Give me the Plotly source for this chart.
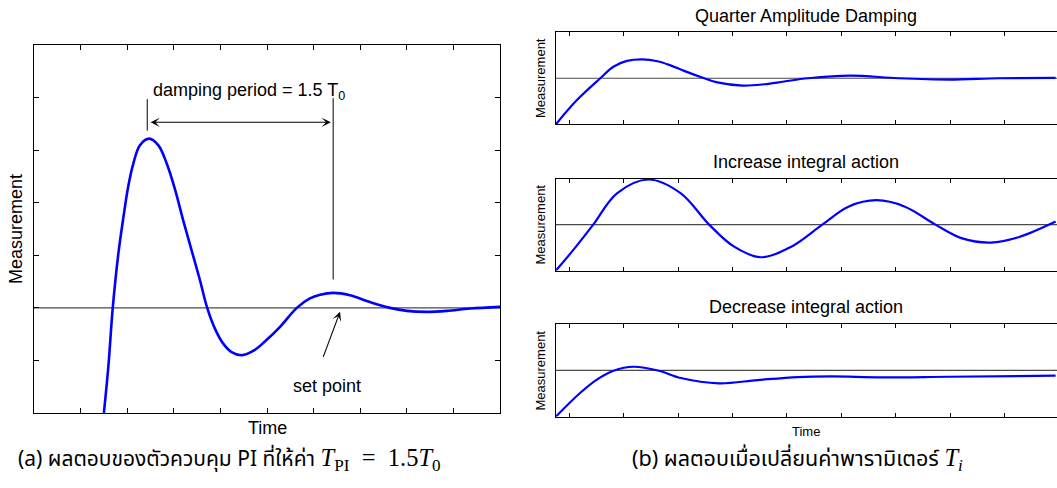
import plotly.graph_objects as go

W, H = 1057, 488

# ---------------- Panel (a): PI response, damping period ----------------
TIME_A = [1.50, 1.595, 1.69, 1.81, 1.92, 2.02, 2.13, 2.27, 2.47, 2.67, 2.85, 3.03,
          3.20, 3.38, 3.56, 3.71, 3.88, 4.06, 4.24, 4.46, 4.74, 4.96, 5.28, 5.64,
          5.92, 6.14, 6.42, 6.78, 7.21, 7.64, 8.00, 8.43, 8.86, 9.36, 10.0]
MEAS_A = [-2.00, -1.12, 0.00, 1.03, 1.73, 2.30, 2.74, 3.09, 3.22, 3.09, 2.74, 2.24,
          1.67, 1.10, 0.53, 0.02, -0.39, -0.68, -0.84, -0.90, -0.80, -0.635, -0.36, 0.00,
          0.18, 0.25, 0.285, 0.24, 0.11, 0.00, -0.057, -0.076, -0.057, -0.013, 0.019]
SETPOINT = 0.0
XRANGE_A = [0, 10]
YRANGE_A = [-2, 5]
PEAK1_T, PEAK1_LINE = 2.43, [3.37, 3.97]
PEAK2_T, PEAK2_LINE = 6.42, [0.54, 3.99]
PERIOD_ARROW_Y, PERIOD_ARROW_T = 3.53, [2.47, 6.37]
SP_TAIL, SP_TIP = (6.195, -0.962), (6.567, -0.076)
PERIOD_TEXT_POS = (2.50, 4.12)
SP_TEXT_POS = (6.288, -1.49)

# ---------------- Panel (b): three responses ----------------
XRANGE_B = [-0.2445, 8.965]
YRANGE_B = [-1, 1]
TIME_Q = [-0.246, 0.136, 0.57, 0.81, 1.06, 1.34, 1.62, 1.86, 2.11, 2.48, 2.72, 3.19,
          3.59, 3.95, 4.39, 5.16, 6.05, 6.98, 7.90, 8.94]
MEAS_Q = [-1.0, -0.48, 0.0, 0.25, 0.377, 0.41, 0.37, 0.28, 0.16, 0.0, -0.09, -0.16,
          -0.13, -0.07, 0.0, 0.058, 0.0, -0.03, 0.0, 0.007]
TIME_I = [-0.246, 0.074, 0.44, 0.876, 1.46, 2.05, 2.57, 3.03, 3.52, 4.08, 4.65, 5.13,
          5.65, 6.17, 6.73, 7.22, 7.75, 8.27, 8.94]
MEAS_I = [-1.0, -0.55, 0.0, 0.68, 0.98, 0.68, 0.0, -0.48, -0.71, -0.48, 0.0, 0.39,
          0.53, 0.39, 0.0, -0.30, -0.39, -0.27, 0.065]
TIME_D = [-0.246, 0.198, 0.506, 0.814, 1.18, 1.645, 2.05, 2.75, 3.46, 4.2, 4.82,
          5.74, 6.98, 8.94]
MEAS_D = [-1.0, -0.49, -0.20, -0.007, 0.079, -0.007, -0.165, -0.28, -0.209, -0.144,
          -0.13, -0.151, -0.137, -0.115]

TITLES_B = ["Quarter Amplitude Damping", "Increase integral action", "Decrease integral action"]

BLUE = "#0000FF"
SPCOL = "#4a4a4a"
FONT = "Liberation Sans, Arial, Helvetica, sans-serif"
THAI = "Noto Sans Thai, Tahoma, Loma, Garuda, Noto Sans, DejaVu Sans, sans-serif"
MATH_SPAN = '<span style="font-family:Liberation Serif, DejaVu Serif, serif;font-size:24.5px">'

CAPTION_A = ("(a) ผลตอบของตัวควบคุม PI ที่ให้ค่า " + MATH_SPAN +
             "<i>T</i><sub>PI</sub>&nbsp; =&nbsp; 1.5<i>T</i><sub>0</sub></span>")
CAPTION_B = ("(b) ผลตอบเมื่อเปลี่ยนค่าพารามิเตอร์ " + MATH_SPAN +
             "<i>T<sub>i</sub></i></span>")


def px(x):
    return x / W


def py(y):
    return 1 - y / H


fig = go.Figure()

# panel (a)
fig.add_trace(go.Scatter(x=XRANGE_A, y=[SETPOINT, SETPOINT], mode="lines",
                         line=dict(color=SPCOL, width=1.2), xaxis="x", yaxis="y"))
fig.add_trace(go.Scatter(x=TIME_A, y=MEAS_A, mode="lines",
                         line=dict(color=BLUE, width=2.6, shape="spline", smoothing=1.0),
                         xaxis="x", yaxis="y"))
fig.add_trace(go.Scatter(x=[PEAK1_T, PEAK1_T], y=PEAK1_LINE, mode="lines",
                         line=dict(color="black", width=1), xaxis="x", yaxis="y"))
fig.add_trace(go.Scatter(x=[PEAK2_T, PEAK2_T], y=PEAK2_LINE, mode="lines",
                         line=dict(color="black", width=1), xaxis="x", yaxis="y"))

# panel (b)
series_b = [(TIME_Q, MEAS_Q), (TIME_I, MEAS_I), (TIME_D, MEAS_D)]
for i, (tx, my) in enumerate(series_b):
    k = str(i + 2)
    fig.add_trace(go.Scatter(x=XRANGE_B, y=[SETPOINT, SETPOINT], mode="lines",
                             line=dict(color=SPCOL, width=1.2), xaxis="x" + k, yaxis="y" + k))
    fig.add_trace(go.Scatter(x=tx, y=my, mode="lines",
                             line=dict(color=BLUE, width=2.2, shape="spline", smoothing=1.0),
                             xaxis="x" + k, yaxis="y" + k))

axis_common = dict(showline=True, linecolor="black", linewidth=1, showgrid=False,
                   zeroline=False, showticklabels=False, fixedrange=True)

layout = dict(
    width=W, height=H, margin=dict(l=0, r=0, t=0, b=0),
    paper_bgcolor="white", plot_bgcolor="white", showlegend=False,
    font=dict(family=FONT, color="black"),
    xaxis=dict(domain=[px(34), px(500)], range=XRANGE_A, anchor="y", mirror="ticks",
               ticks="inside", ticklen=5, tickcolor="black", tick0=0, dtick=1, **axis_common),
    yaxis=dict(domain=[py(413), py(45)], range=YRANGE_A, anchor="x", mirror="ticks",
               ticks="inside", ticklen=5, tickcolor="black", tick0=0, dtick=1, **axis_common),
)

b_dom = [(32.3, 124.2), (178.6, 270.6), (324.2, 416.6)]
for i, (top, bot) in enumerate(b_dom):
    k = str(i + 2)
    layout["xaxis" + k] = dict(domain=[px(556), 1.0], range=XRANGE_B, anchor="y" + k,
                               mirror="ticks", ticks="inside", ticklen=4, tickcolor="black",
                               tick0=0, dtick=1, **axis_common)
    layout["yaxis" + k] = dict(domain=[py(bot), py(top)], range=YRANGE_B, anchor="x" + k,
                               mirror=False, ticks="", **axis_common)

ann = []
# double-headed period arrow
ann.append(dict(x=PERIOD_ARROW_T[1], y=PERIOD_ARROW_Y, ax=PERIOD_ARROW_T[0], ay=PERIOD_ARROW_Y,
                xref="x", yref="y", axref="x", ayref="y", text="", showarrow=True,
                arrowhead=3, startarrowhead=3, arrowside="end+start", arrowsize=1.4,
                startarrowsize=1.4, arrowwidth=1.1, arrowcolor="black"))
# set point arrow
ann.append(dict(x=SP_TIP[0], y=SP_TIP[1], ax=SP_TAIL[0], ay=SP_TAIL[1],
                xref="x", yref="y", axref="x", ayref="y", text="", showarrow=True,
                arrowhead=3, arrowsize=1.4, arrowwidth=1.1, arrowcolor="black"))
ann.append(dict(x=PERIOD_TEXT_POS[0], y=PERIOD_TEXT_POS[1], xref="x", yref="y",
                text="damping period = 1.5 T<sub>0</sub>", showarrow=False,
                xanchor="left", yanchor="middle", font=dict(size=18)))
ann.append(dict(x=SP_TEXT_POS[0], y=SP_TEXT_POS[1], xref="x", yref="y",
                text="set point", showarrow=False, xanchor="center", yanchor="middle",
                font=dict(size=18)))
# axis titles (a)
ann.append(dict(x=px(267), y=py(428), xref="paper", yref="paper", text="Time",
                showarrow=False, font=dict(size=18), xanchor="center", yanchor="middle"))
ann.append(dict(x=px(16), y=py(229), xref="paper", yref="paper", text="Measurement",
                showarrow=False, font=dict(size=18), textangle=-90,
                xanchor="center", yanchor="middle"))
# panel (b) texts
title_y = [16, 161.7, 307.3]
meas_y = [78, 224.5, 370.5]
for t, ty, my in zip(TITLES_B, title_y, meas_y):
    ann.append(dict(x=px(806), y=py(ty), xref="paper", yref="paper", text=t,
                    showarrow=False, font=dict(size=18), xanchor="center", yanchor="middle"))
    ann.append(dict(x=px(540), y=py(my), xref="paper", yref="paper", text="Measurement",
                    showarrow=False, font=dict(size=13), textangle=-90,
                    xanchor="center", yanchor="middle"))
ann.append(dict(x=px(806), y=py(431.5), xref="paper", yref="paper", text="Time",
                showarrow=False, font=dict(size=13), xanchor="center", yanchor="middle"))
# captions
ann.append(dict(x=px(16), y=py(459), xref="paper", yref="paper", text=CAPTION_A,
                showarrow=False, font=dict(size=21, family=THAI),
                xanchor="left", yanchor="middle"))
ann.append(dict(x=px(797), y=py(459), xref="paper", yref="paper", text=CAPTION_B,
                showarrow=False, font=dict(size=21.5, family=THAI),
                xanchor="center", yanchor="middle"))

layout["annotations"] = ann
fig.update_layout(**layout)
fig.write_html("out.html", config={"displayModeBar": False},
               post_script="document.body.style.margin='0px';")
